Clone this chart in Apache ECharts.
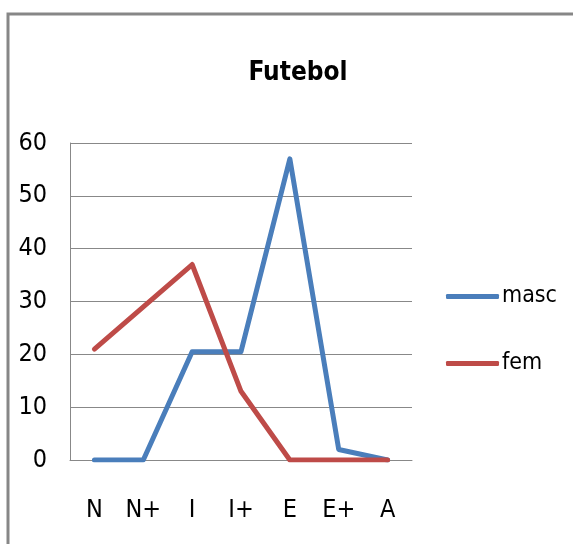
<!DOCTYPE html>
<html>
<head>
<meta charset="utf-8">
<script src="https://cdn.jsdelivr.net/npm/echarts@6/dist/echarts.min.js"></script>
<style>
  html, body { margin: 0; padding: 0; background: #fff; }
  #chart { width: 573px; height: 544px; }
</style>
</head>
<body>
<div id="chart"></div>
<script>
// Categories along the horizontal axis
const categories = ['N', 'N+', 'I', 'I+', 'E', 'E+', 'A'];
// Series values
const mascValues = [0, 0, 20.5, 20.5, 57, 2, 0];
const femValues = [21, 29, 37, 13, 0, 0, 0];
// Value axis ticks
const yMin = 0;
const yMax = 60;
const yStep = 10;

const narrow = '"DejaVu Sans Condensed", "Liberation Sans Narrow", sans-serif';

const chart = echarts.init(document.getElementById('chart'), null, { renderer: 'canvas' });
chart.setOption({
  animation: false,
  backgroundColor: '#ffffff',
  graphic: [{
    type: 'rect',
    shape: { x: 8, y: 14, width: 800, height: 800 },
    style: { fill: 'none', stroke: '#878787', lineWidth: 3 },
    silent: true
  }],
  title: {
    text: 'Futebol',
    left: 293,
    textAlign: 'center',
    top: 55,
    textStyle: { fontFamily: narrow, fontWeight: 'bold', fontSize: 26, color: '#000' }
  },
  legend: {
    orient: 'vertical',
    left: 441,
    top: 279,
    itemWidth: 53,
    itemHeight: 5,
    itemGap: 42,
    icon: 'roundRect',
    textStyle: { fontFamily: narrow, fontSize: 23, color: '#000', padding: [0, 0, 0, -2], lineHeight: 25 },
    data: ['masc', 'fem']
  },
  grid: { left: 70, right: 161, top: 143, bottom: 84 },
  xAxis: {
    type: 'category',
    data: categories,
    boundaryGap: true,
    axisLine: { lineStyle: { color: '#888888', width: 1 } },
    axisTick: { show: false },
    axisLabel: { interval: 0, margin: 38, fontFamily: narrow, fontSize: 25, color: '#000' }
  },
  yAxis: {
    type: 'value',
    min: yMin,
    max: yMax,
    interval: yStep,
    axisLine: { show: true, lineStyle: { color: '#888888', width: 1 } },
    axisTick: { show: false },
    splitLine: { lineStyle: { color: '#888888', width: 1 } },
    axisLabel: { margin: 23, fontFamily: narrow, fontSize: 25, color: '#000' }
  },
  series: [
    {
      name: 'masc',
      type: 'line',
      data: mascValues,
      showSymbol: false,
      symbol: 'none',
      lineStyle: { color: '#4A7EBB', width: 5, cap: 'round', join: 'round' },
      itemStyle: { color: '#4A7EBB' }
    },
    {
      name: 'fem',
      type: 'line',
      data: femValues,
      showSymbol: false,
      symbol: 'none',
      lineStyle: { color: '#BE4B48', width: 5, cap: 'round', join: 'round' },
      itemStyle: { color: '#BE4B48' }
    }
  ]
});
</script>
</body>
</html>
